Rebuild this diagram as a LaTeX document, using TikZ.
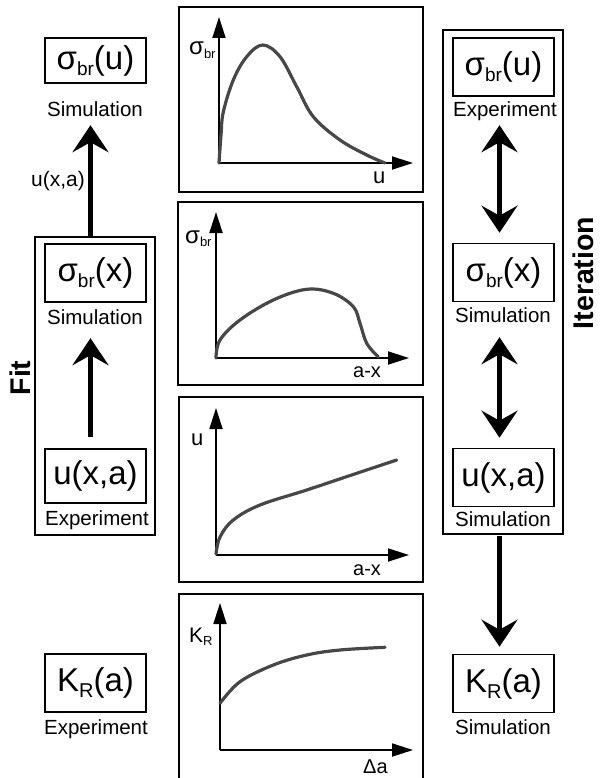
\documentclass[tikz,border=0pt]{standalone}
\usepackage{fontspec}
\setmainfont{Liberation Sans}
\usetikzlibrary{arrows.meta}
\newcommand\sgb{σ\raisebox{-0.35ex}{\fontsize{19}{19}\selectfont br}}
\newcommand\krr{K\raisebox{-0.35ex}{\fontsize{20}{20}\selectfont R}}
\newcommand\sgbs{{\fontsize{24}{24}\selectfont σ}\raisebox{-0.3ex}{\fontsize{13}{13}\selectfont br}}
\newcommand\krs{{\fontsize{21}{21}\selectfont K}\raisebox{-0.3ex}{\fontsize{13}{13}\selectfont R}}
\begin{document}
\begin{tikzpicture}[x=1pt,y=-1pt,
 qbox/.style={draw, line width=1.6pt, minimum width=101pt, minimum height=58pt, inner sep=0pt, font=\fontsize{33}{33}\selectfont},
 capt/.style={font=\fontsize{20.5}{20.5}\selectfont, inner sep=0pt, text height=14pt, text depth=0pt},
 frame/.style={draw, line width=1.6pt},
 big/.style={-{Stealth[length=27pt,width=36pt,inset=10pt]}, line width=5pt},
 dbl/.style={{Stealth[length=27pt,width=36pt,inset=10pt]}-{Stealth[length=27pt,width=36pt,inset=10pt]}, line width=5pt},
 axis/.style={-{Triangle[length=21pt,width=13pt]}, line width=1.8pt},
 curve/.style={line width=3.2pt, color=black!72, line cap=round, line join=round},
 plab/.style={inner sep=0pt, anchor=base west, font=\fontsize{20}{20}\selectfont},
 side/.style={font=\fontsize{28.5}{28.5}\selectfont\bfseries, rotate=90, inner sep=0pt, text height=21pt, text depth=0pt}]
\useasboundingbox (0,0) rectangle (599,778);

% ---------- left column ----------
\node[frame, minimum width=120pt, minimum height=298pt, inner sep=0pt] (fitbox) at (95,386) {};
\node[qbox, minimum height=45pt] (L1) at (95.5,60.5) {\sgb(u)};
\node[capt] (cL1) at (95,110) {Simulation};
\node[qbox] (L2) at (95.5,273) {\sgb(x)};
\node[capt] (cL2) at (95,317) {Simulation};
\node[qbox, minimum height=54pt] (L3) at (95.5,476) {u(x,a)};
\node[capt] (cL3) at (97,518) {Experiment};
\node[qbox] (L4) at (95.5,683) {\krr(a)};
\node[capt] (cL4) at (96,727) {Experiment};
\node[side] (fit) at (20,378) {Fit};
\coordinate (ax) at (90.5,0);
\draw[big] (fitbox.north -| ax) -- ([yshift=-8pt]cL1.south -| ax);
\node[inner sep=0pt, font=\fontsize{21}{21}\selectfont] (ulab) at (58,181) {u(x,a)};
\draw[big] ([yshift=11pt]L3.north -| ax) -- ([yshift=-14pt]cL2.south -| ax);

% ---------- right column ----------
\node[frame, minimum width=120pt, minimum height=504pt, inner sep=0pt] (itbox) at (503,282) {};
\node[qbox] (R1) at (503.5,67) {\sgb(u)};
\node[capt] (cR1) at (505,110) {Experiment};
\node[qbox] (R2) at (503.5,272.5) {\sgb(x)};
\node[capt] (cR2) at (503,315) {Simulation};
\node[qbox] (R3) at (503.5,477.5) {u(x,a)};
\node[capt] (cR3) at (503,519) {Simulation};
\node[qbox] (R4) at (503.5,683.5) {\krr(a)};
\node[capt] (cR4) at (503,727) {Simulation};
\node[side] (iter) at (582.5,273) {Iteration};
\coordinate (bx) at (499.5,0);
\draw[dbl] ([yshift=-8pt]cR1.south -| bx) -- ([yshift=10pt]R2.north -| bx);
\draw[dbl] ([yshift=-15pt]cR2.south -| bx) -- ([yshift=10pt]R3.north -| bx);
\draw[big] ([yshift=-1pt]itbox.south -| bx) -- ([yshift=7pt]R4.north -| bx);

% ---------- plot 1 ----------
\node[frame, minimum width=244pt, minimum height=185pt, inner sep=0pt] (p1) at (301,99.5) {};
\coordinate (o1) at (219,163);
\coordinate (y1) at (219,17);
\coordinate (x1) at (413,163);
\draw[axis] (o1) -- (y1);
\draw[axis] (o1) -- (x1);
\draw[curve] plot[smooth, tension=0.6] coordinates {(219,163) (221,135) (223.3,112) (233.3,80) (246.7,56.7) (262.7,45) (280,56.7) (296.7,86.7) (313.3,116.7) (340,140) (366.7,155) (385,163)};
\node[plab] (p1y) at (189,55) {\sgbs};
\node[plab, font=\fontsize{22}{22}\selectfont] (p1x) at (373,183) {u};

% ---------- plot 2 ----------
\node[frame, minimum width=245pt, minimum height=183pt, inner sep=0pt] (p2) at (300.5,293.5) {};
\coordinate (o2) at (216,358);
\coordinate (y2) at (216,212);
\coordinate (x2) at (409,358);
\draw[axis] (o2) -- (y2);
\draw[axis] (o2) -- (x2);
\draw[curve] plot[smooth, tension=0.6] coordinates {(216,358) (220,340) (240,320) (273.3,300) (306.7,289.3) (333.3,293.3) (353.3,306.7) (360,323.3) (366.7,343.3) (378.3,357)};
\node[plab] (p2y) at (185,243) {\sgbs};
\node[plab] (p2x) at (353,377) {a-x};

% ---------- plot 3 ----------
\node[frame, minimum width=244pt, minimum height=185pt, inner sep=0pt] (p3) at (301,489.5) {};
\coordinate (o3) at (216,555);
\coordinate (y3) at (216,408);
\coordinate (x3) at (409,555);
\draw[axis] (o3) -- (y3);
\draw[axis] (o3) -- (x3);
\draw[curve] plot[smooth, tension=0.6] coordinates {(216,554) (220,537) (233.3,520) (260,505) (306.7,490) (356.7,473.3) (396.7,460)};
\node[plab, font=\fontsize{22}{22}\selectfont] (p3y) at (191,445) {u};
\node[plab] (p3x) at (353,575) {a-x};

% ---------- plot 4 ----------
\draw[line width=1.6pt] (179,778) -- (179,594) -- (423,594) -- (423,778);
\coordinate (o4) at (220,750);
\coordinate (y4) at (220,603);
\coordinate (x4) at (413,750);
\draw[axis] (o4) -- (y4);
\draw[axis] (o4) -- (x4);
\draw[curve] plot[smooth, tension=0.6] coordinates {(220,703.3) (240,681.7) (273.3,665) (306.7,655) (340,650) (385,647.3)};
\node[plab] (p4y) at (189,642) {\krs};
\node[plab] (p4x) at (363,773) {Δa};
\end{tikzpicture}
\end{document}
